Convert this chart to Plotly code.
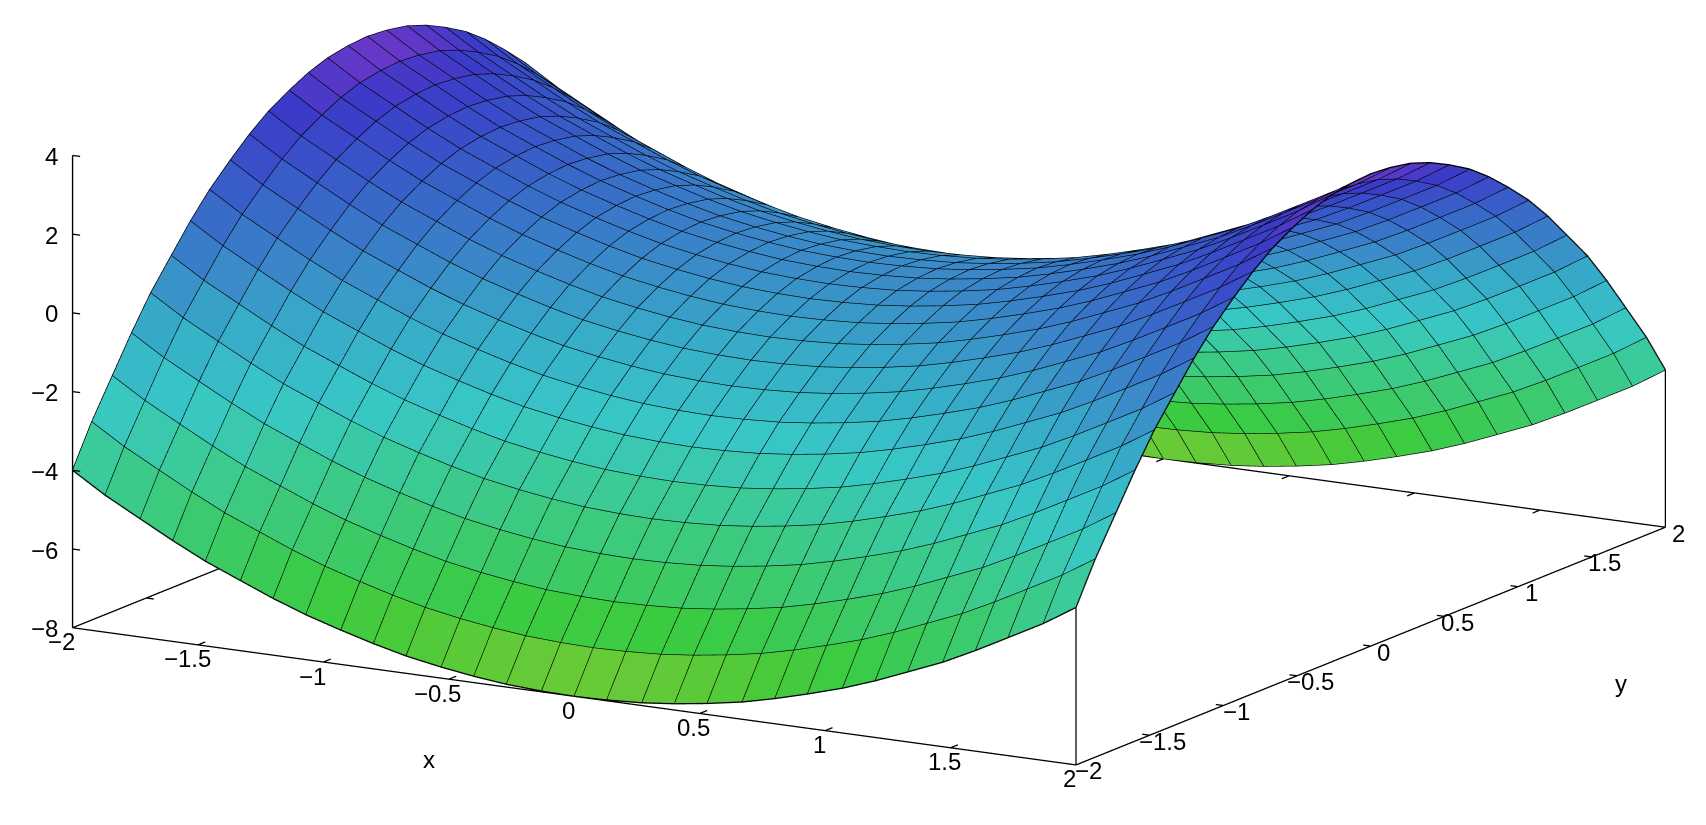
import plotly.graph_objects as go

# Grid positions (30 cells along each axis)
x_values = [-2.0,-1.87,-1.73,-1.6,-1.47,-1.33,-1.2,-1.07,-0.93,-0.8,-0.67,-0.53,-0.4,-0.27,-0.13,0.0,
            0.13,0.27,0.4,0.53,0.67,0.8,0.93,1.07,1.2,1.33,1.47,1.6,1.73,1.87,2.0]
y_values = list(x_values)

# Surface heights read for one quadrant (outer edge to centre); the picture is symmetric in x and y
z_quadrant = [
 [-4.00,-4.52,-5.00,-5.44,-5.85,-6.22,-6.56,-6.86,-7.13,-7.36,-7.56,-7.72,-7.84,-7.93,-7.98,-8.00],
 [-2.97,-3.49,-3.97,-4.41,-4.82,-5.19,-5.53,-5.83,-6.10,-6.33,-6.53,-6.69,-6.81,-6.90,-6.95,-6.97],
 [-2.01,-2.53,-3.01,-3.45,-3.86,-4.23,-4.57,-4.87,-5.14,-5.37,-5.57,-5.73,-5.85,-5.94,-5.99,-6.01],
 [-1.12,-1.64,-2.12,-2.56,-2.97,-3.34,-3.68,-3.98,-4.25,-4.48,-4.68,-4.84,-4.96,-5.05,-5.10,-5.12],
 [-0.30,-0.82,-1.30,-1.74,-2.15,-2.52,-2.86,-3.16,-3.43,-3.66,-3.86,-4.02,-4.14,-4.23,-4.28,-4.30],
 [0.44,-0.08,-0.56,-1.00,-1.41,-1.78,-2.12,-2.42,-2.69,-2.92,-3.12,-3.28,-3.40,-3.49,-3.54,-3.56],
 [1.12,0.60,0.12,-0.32,-0.73,-1.10,-1.44,-1.74,-2.01,-2.24,-2.44,-2.60,-2.72,-2.81,-2.86,-2.88],
 [1.72,1.20,0.72,0.28,-0.13,-0.50,-0.84,-1.14,-1.41,-1.64,-1.84,-2.00,-2.12,-2.21,-2.26,-2.28],
 [2.26,1.74,1.26,0.82,0.41,0.04,-0.30,-0.60,-0.87,-1.10,-1.30,-1.46,-1.58,-1.67,-1.72,-1.74],
 [2.72,2.20,1.72,1.28,0.87,0.50,0.16,-0.14,-0.41,-0.64,-0.84,-1.00,-1.12,-1.21,-1.26,-1.28],
 [3.11,2.59,2.11,1.67,1.26,0.89,0.55,0.25,-0.02,-0.25,-0.45,-0.61,-0.73,-0.82,-0.87,-0.89],
 [3.43,2.91,2.43,1.99,1.58,1.21,0.87,0.57,0.30,0.07,-0.13,-0.29,-0.41,-0.50,-0.55,-0.57],
 [3.68,3.16,2.68,2.24,1.83,1.46,1.12,0.82,0.55,0.32,0.12,-0.04,-0.16,-0.25,-0.30,-0.32],
 [3.86,3.34,2.86,2.42,2.01,1.64,1.30,1.00,0.73,0.50,0.30,0.14,0.02,-0.07,-0.12,-0.14],
 [3.96,3.44,2.96,2.52,2.11,1.74,1.40,1.10,0.83,0.60,0.40,0.24,0.12,0.03,-0.02,-0.04],
 [4.00,3.48,3.00,2.56,2.15,1.78,1.44,1.14,0.87,0.64,0.44,0.28,0.16,0.07,0.02,0.00],
]
x_ticks = [-2,-1.5,-1,-0.5,0,0.5,1,1.5,2]
y_ticks = [-2,-1.5,-1,-0.5,0,0.5,1,1.5,2]
z_ticks = [-8,-6,-4,-2,0,2,4]

# z level -> colour stops
color_stops = [(-8,(128,202,52)),(-7.5,(105,202,55)),(-7,(75,202,58)),(-6.4,(58,203,66)),(-5.5,(60,202,100)),(-4,(60,202,145)),
               (-2.6,(56,200,198)),(-1,(55,170,200)),(0,(58,140,200)),(1,(56,112,200)),(2,(56,84,200)),
               (3,(60,58,200)),(3.5,(85,56,200)),(4,(122,56,200))]

z_rows = [r + r[-2::-1] for r in z_quadrant]
z_rows = z_rows + z_rows[-2::-1]

def color_for(v):
    for (a, ca), (b, cb) in zip(color_stops, color_stops[1:]):
        if v <= b:
            t = max(0, (v - a) / (b - a))
            return "rgb(%d,%d,%d)" % tuple(round(p + (q - p) * t) for p, q in zip(ca, cb))
    return "rgb(%d,%d,%d)" % color_stops[-1][1]

nx, ny = len(x_values), len(y_values)
vx, vy, vz = [], [], []
for j in range(ny):
    for i in range(nx):
        vx.append(x_values[i]); vy.append(y_values[j]); vz.append(z_rows[j][i])
ti, tj, tk, fc = [], [], [], []
for j in range(ny - 1):
    for i in range(nx - 1):
        a = j * nx + i
        b, c, d = a + 1, a + nx + 1, a + nx
        col = color_for((vz[a] + vz[b] + vz[c] + vz[d]) / 4)
        ti += [a, a]; tj += [b, c]; tk += [c, d]; fc += [col, col]

fig = go.Figure()
fig.add_trace(go.Mesh3d(x=vx, y=vy, z=vz, i=ti, j=tj, k=tk, facecolor=fc, flatshading=True,
                        lighting=dict(ambient=1, diffuse=0, specular=0, roughness=1, fresnel=0),
                        hoverinfo="skip", showscale=False))
lx, ly, lz = [], [], []
for j in range(ny):
    lx += x_values + [None]; ly += [y_values[j]] * nx + [None]; lz += z_rows[j] + [None]
for i in range(nx):
    lx += [x_values[i]] * ny + [None]; ly += y_values + [None]; lz += [z_rows[j][i] for j in range(ny)] + [None]
fig.add_trace(go.Scatter3d(x=lx, y=ly, z=lz, mode="lines", line=dict(color="black", width=2.6),
                           hoverinfo="skip", showlegend=False))

# Box edges and tick marks
bx, by, bz = [], [], []
def seg(p, q):
    bx.extend([p[0], q[0], None]); by.extend([p[1], q[1], None]); bz.extend([p[2], q[2], None])
seg((-2,-2,-8),(2,-2,-8)); seg((2,-2,-8),(2,2,-8)); seg((2,2,-8),(-2,2,-8)); seg((-2,-2,-8),(-2,2,-8))
seg((-2,-2,-8),(-2,-2,4)); seg((2,-2,-8),(2,-2,-4)); seg((2,2,-8),(2,2,-4))
for t in x_ticks[1:-1]:
    seg((t,-2,-8),(t,-1.95,-8)); seg((t,2,-8),(t,1.95,-8))
for t in y_ticks[1:-1]:
    seg((2,t,-8),(1.97,t,-8)); seg((-2,t,-8),(-1.97,t,-8))
for t in z_ticks[1:]:
    seg((-2,-2,t),(-1.97,-2,t))
fig.add_trace(go.Scatter3d(x=bx, y=by, z=bz, mode="lines", line=dict(color="black", width=2.6),
                           hoverinfo="skip", showlegend=False))

font = dict(family="Liberation Sans", size=24, color="black")
def lab(v):
    s = ("%g" % abs(v))
    return ("\u2212" + s) if v < 0 else s
ann = []
for t in x_ticks:
    ann.append(dict(x=t, y=-2, z=-8, text=lab(t), showarrow=False, font=font, xshift=-11 if t < 0 else -6, yshift=-14))
for t in y_ticks:
    ann.append(dict(x=2, y=t, z=-8, text=lab(t), showarrow=False, font=font, xshift=13, yshift=-6))
for t in z_ticks:
    ann.append(dict(x=-2, y=-2, z=t, text=lab(t), showarrow=False, font=font, xanchor="right", xshift=-13, yshift=-1))
ann.append(dict(x=-0.5, y=-2, z=-8, text="x", showarrow=False, font=font, xshift=-20, yshift=-80))
ann.append(dict(x=2, y=1.5, z=-8, text="y", showarrow=False, font=font, xshift=29, yshift=-127))

# Ranges run a hair past the box so edge lines are not clipped by the scene bounds
axis = dict(visible=False)
fig.update_layout(
    width=1706, height=825, margin=dict(l=0, r=0, t=0, b=0), paper_bgcolor="white", showlegend=False,
    scene=dict(
        domain=dict(x=[0, 1], y=[0, 1]),
        xaxis=dict(axis, range=[-2.02, 2.02]),
        yaxis=dict(axis, range=[-2.02, 2.02]),
        zaxis=dict(axis, range=[-8.1, 4.1]),
        aspectmode="manual", aspectratio=dict(x=2.843, y=2.868, z=1.1976),
        camera=dict(projection=dict(type="orthographic"), up=dict(x=0, y=0, z=1),
                    center=dict(x=-0.0335, y=-0.0195, z=-0.1775), eye=dict(x=2.412, y=-4.2194, z=0.9965)),
        annotations=ann,
    ),
)
fig.write_html("out.html", post_script="document.body.style.margin='0';", config=dict(displayModeBar=False))
